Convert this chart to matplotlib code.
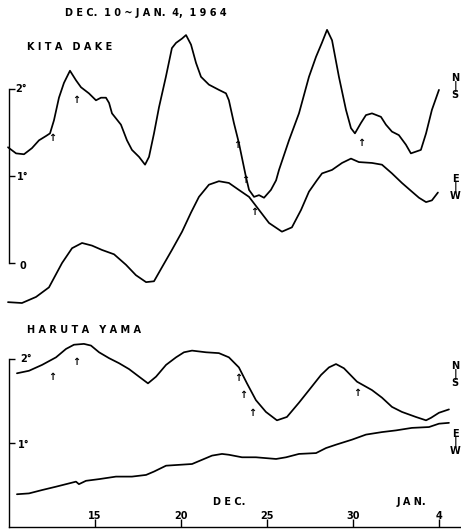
import matplotlib
matplotlib.use("Agg")
import matplotlib.pyplot as plt

# Kita Dake, N-S component (day of December, degrees)
kita_ns_day = [9.97, 10.44, 10.90, 11.36, 11.77, 12.18, 12.41, 12.64, 12.93, 13.22, 13.57, 13.92,
               14.21, 14.67, 15.08, 15.37, 15.66, 15.84, 16.01, 16.53, 16.88, 17.17, 17.58, 17.93,
               18.16, 18.45, 18.74, 19.14, 19.49, 19.73, 20.08, 20.31, 20.60, 20.89, 21.18, 21.64,
               22.22, 22.63, 22.80, 23.09, 23.38, 23.79, 23.97, 24.26, 24.55, 24.84, 25.24, 25.54,
               25.71, 26.29, 26.87, 27.45, 27.86, 28.20, 28.50, 28.79, 29.19, 29.60, 29.89, 30.12,
               30.47, 30.76, 31.11, 31.63, 31.92, 32.27, 32.67, 33.08, 33.37, 33.66, 33.95, 34.25,
               34.59, 35.00]
kita_ns_val = [1.33, 1.26, 1.25, 1.32, 1.41, 1.46, 1.49, 1.64, 1.90, 2.07, 2.21, 2.10,
               2.02, 1.95, 1.87, 1.90, 1.90, 1.84, 1.72, 1.59, 1.41, 1.30, 1.22, 1.13,
               1.22, 1.49, 1.79, 2.14, 2.47, 2.53, 2.58, 2.62, 2.51, 2.30, 2.14, 2.05,
               1.99, 1.95, 1.87, 1.61, 1.38, 0.99, 0.84, 0.76, 0.78, 0.75, 0.84, 0.95,
               1.07, 1.41, 1.72, 2.14, 2.37, 2.53, 2.68, 2.56, 2.14, 1.76, 1.55, 1.49,
               1.61, 1.70, 1.72, 1.68, 1.59, 1.51, 1.47, 1.36, 1.26, 1.28, 1.30, 1.49,
               1.76, 1.99]

# Kita Dake, E-W component
kita_ew_day = [9.97, 10.78, 11.60, 12.35, 13.11, 13.69, 14.27, 14.85, 15.43, 16.13, 16.82, 17.40,
               17.99, 18.45, 18.91, 19.49, 20.08, 20.60, 21.06, 21.64, 22.22, 22.80, 23.38, 23.97,
               24.55, 25.13, 25.88, 26.46, 26.99, 27.45, 27.91, 28.21, 28.79, 29.37, 29.89, 30.35,
               31.11, 31.69, 32.27, 32.85, 33.43, 33.84, 34.25, 34.59, 34.94]
kita_ew_val = [-0.45, -0.46, -0.39, -0.28, 0.00, 0.17, 0.23, 0.20, 0.15, 0.10, -0.02, -0.14,
               -0.22, -0.21, -0.05, 0.15, 0.36, 0.58, 0.76, 0.90, 0.94, 0.92, 0.84, 0.76,
               0.61, 0.46, 0.36, 0.41, 0.61, 0.82, 0.95, 1.03, 1.07, 1.15, 1.20, 1.16,
               1.15, 1.13, 1.03, 0.92, 0.82, 0.75, 0.70, 0.72, 0.81]

# Haruta Yama, N-S component
haruta_ns_day = [10.49, 11.19, 11.95, 12.76, 13.34, 13.80, 14.38, 14.79, 15.26, 15.84, 16.42, 17.00,
                 17.58, 18.10, 18.57, 19.15, 19.73, 20.19, 20.66, 21.47, 22.22, 22.80, 23.38, 23.85,
                 24.37, 24.95, 25.59, 26.17, 26.87, 27.57, 28.15, 28.61, 29.02, 29.48, 30.24, 31.11,
                 31.69, 32.27, 32.85, 33.66, 34.25, 34.54, 35.00, 35.58]
haruta_ns_val = [1.83, 1.86, 1.93, 2.02, 2.12, 2.17, 2.18, 2.16, 2.08, 2.01, 1.95, 1.88,
                 1.79, 1.71, 1.79, 1.93, 2.02, 2.08, 2.10, 2.08, 2.07, 2.02, 1.90, 1.71,
                 1.51, 1.37, 1.27, 1.31, 1.48, 1.66, 1.81, 1.90, 1.94, 1.89, 1.73, 1.63,
                 1.54, 1.43, 1.37, 1.31, 1.27, 1.30, 1.36, 1.40]

# Haruta Yama, E-W component
haruta_ew_day = [10.49, 11.19, 11.95, 12.76, 13.34, 13.92, 14.09, 14.50, 15.26, 16.24, 17.17, 17.99,
                 18.45, 19.15, 19.90, 20.66, 21.24, 21.82, 22.40, 22.80, 23.56, 24.37, 24.95, 25.54,
                 26.12, 26.87, 27.86, 28.44, 29.02, 29.95, 30.76, 31.69, 32.50, 33.43, 34.42, 35.00,
                 35.58]
haruta_ew_val = [0.39, 0.40, 0.44, 0.48, 0.51, 0.54, 0.51, 0.55, 0.57, 0.60, 0.60, 0.62,
                 0.66, 0.73, 0.74, 0.75, 0.80, 0.85, 0.87, 0.86, 0.83, 0.83, 0.82, 0.81,
                 0.83, 0.87, 0.88, 0.94, 0.98, 1.04, 1.10, 1.13, 1.15, 1.18, 1.19, 1.23,
                 1.24]

# small arrows marking events (day, degrees)
kita_arrow_day = [12.53, 13.92, 23.27, 23.73, 24.26, 30.49]
kita_arrow_val = [1.44, 1.87, 1.36, 0.95, 0.59, 1.38]
haruta_arrow_day = [12.53, 13.92, 23.33, 23.62, 24.14, 30.24]
haruta_arrow_val = [1.79, 1.96, 1.77, 1.57, 1.36, 1.60]

day_ticks = [15, 20, 25, 30, 35]
day_labels = ["15", "20", "25", "30", "4"]

fig = plt.figure(figsize=(4.61, 5.30), dpi=100)
xlim = (9.506, 36.28)
txt = dict(color="black", fontsize=7, fontweight="bold", family="DejaVu Sans")
line = dict(color="black", lw=1.25, solid_joinstyle="round", solid_capstyle="round")

# ---- upper panel: Kita Dake
ax1 = fig.add_axes([0, 0, 1, 1], facecolor="none")
ax1.set_xlim(*xlim)
ax1.set_ylim(-3.069, 3.023)
ax1.plot(kita_ns_day, kita_ns_val, **line)
ax1.plot(kita_ew_day, kita_ew_val, **line)
for s in ["top", "right", "bottom"]:
    ax1.spines[s].set_visible(False)
ax1.spines["left"].set_position(("data", 10))
ax1.spines["left"].set_bounds(0, 2)
ax1.spines["left"].set_linewidth(1.0)
ax1.set_xticks([])
ax1.set_yticks([0, 1, 2])
ax1.tick_params(axis="y", direction="in", length=4.5, width=1.0, labelleft=False)
ax1.text(10.38, 2.0, "2°", ha="left", va="center", **txt)
ax1.text(10.50, 0.99, "1°", ha="left", va="center", **txt)
ax1.text(10.65, -0.03, "0", ha="left", va="center", **txt)
for d, v in zip(kita_arrow_day, kita_arrow_val):
    ax1.text(d, v, "↑", ha="center", va="center", **txt)
ax1.text(35.94, 2.03, "N\n|\nS", ha="center", va="center", linespacing=0.75, **txt)
ax1.text(35.94, 0.87, "E\n|\nW", ha="center", va="center", linespacing=0.75, **txt)
ax1.text(18.0, 2.87, "D E C.  1 0 ~ J A N.  4,  1 9 6 4", ha="center", va="center", **txt)
ax1.text(11.07, 2.48, "K I T A   D A K E", ha="left", va="center", **txt)

# ---- lower panel: Haruta Yama
ax2 = fig.add_axes([0, 0, 1, 1], facecolor="none")
ax2.set_xlim(*xlim)
ax2.set_ylim(-0.0357, 6.274)
ax2.plot(haruta_ns_day, haruta_ns_val, **line)
ax2.plot(haruta_ew_day, haruta_ew_val, **line)
for s in ["top", "right"]:
    ax2.spines[s].set_visible(False)
ax2.spines["left"].set_position(("data", 10))
ax2.spines["left"].set_bounds(0, 2)
ax2.spines["bottom"].set_position(("data", 0))
ax2.spines["bottom"].set_bounds(10, xlim[1])
for s in ["left", "bottom"]:
    ax2.spines[s].set_linewidth(1.0)
ax2.set_yticks([1, 2])
ax2.set_xticks(day_ticks)
ax2.tick_params(axis="y", direction="in", length=4.5, width=1.0, labelleft=False)
ax2.tick_params(axis="x", direction="in", length=6, width=1.0, labelbottom=False)
ax2.text(10.67, 2.0, "2°", ha="left", va="center", **txt)
ax2.text(10.55, 0.98, "1°", ha="left", va="center", **txt)
for d, lab in zip(day_ticks, day_labels):
    ax2.text(d, 0.13, lab, ha="center", va="center", **txt)
ax2.text(22.8, 0.30, "D E C.", ha="center", va="center", **txt)
ax2.text(33.4, 0.30, "J A N.", ha="center", va="center", **txt)
for d, v in zip(haruta_arrow_day, haruta_arrow_val):
    ax2.text(d, v, "↑", ha="center", va="center", **txt)
ax2.text(35.94, 1.82, "N\n|\nS", ha="center", va="center", linespacing=0.75, **txt)
ax2.text(35.94, 1.01, "E\n|\nW", ha="center", va="center", linespacing=0.75, **txt)
ax2.text(11.1, 2.35, "H A R U T A   Y A M A", ha="left", va="center", **txt)

fig.savefig("out.png", dpi=100)
